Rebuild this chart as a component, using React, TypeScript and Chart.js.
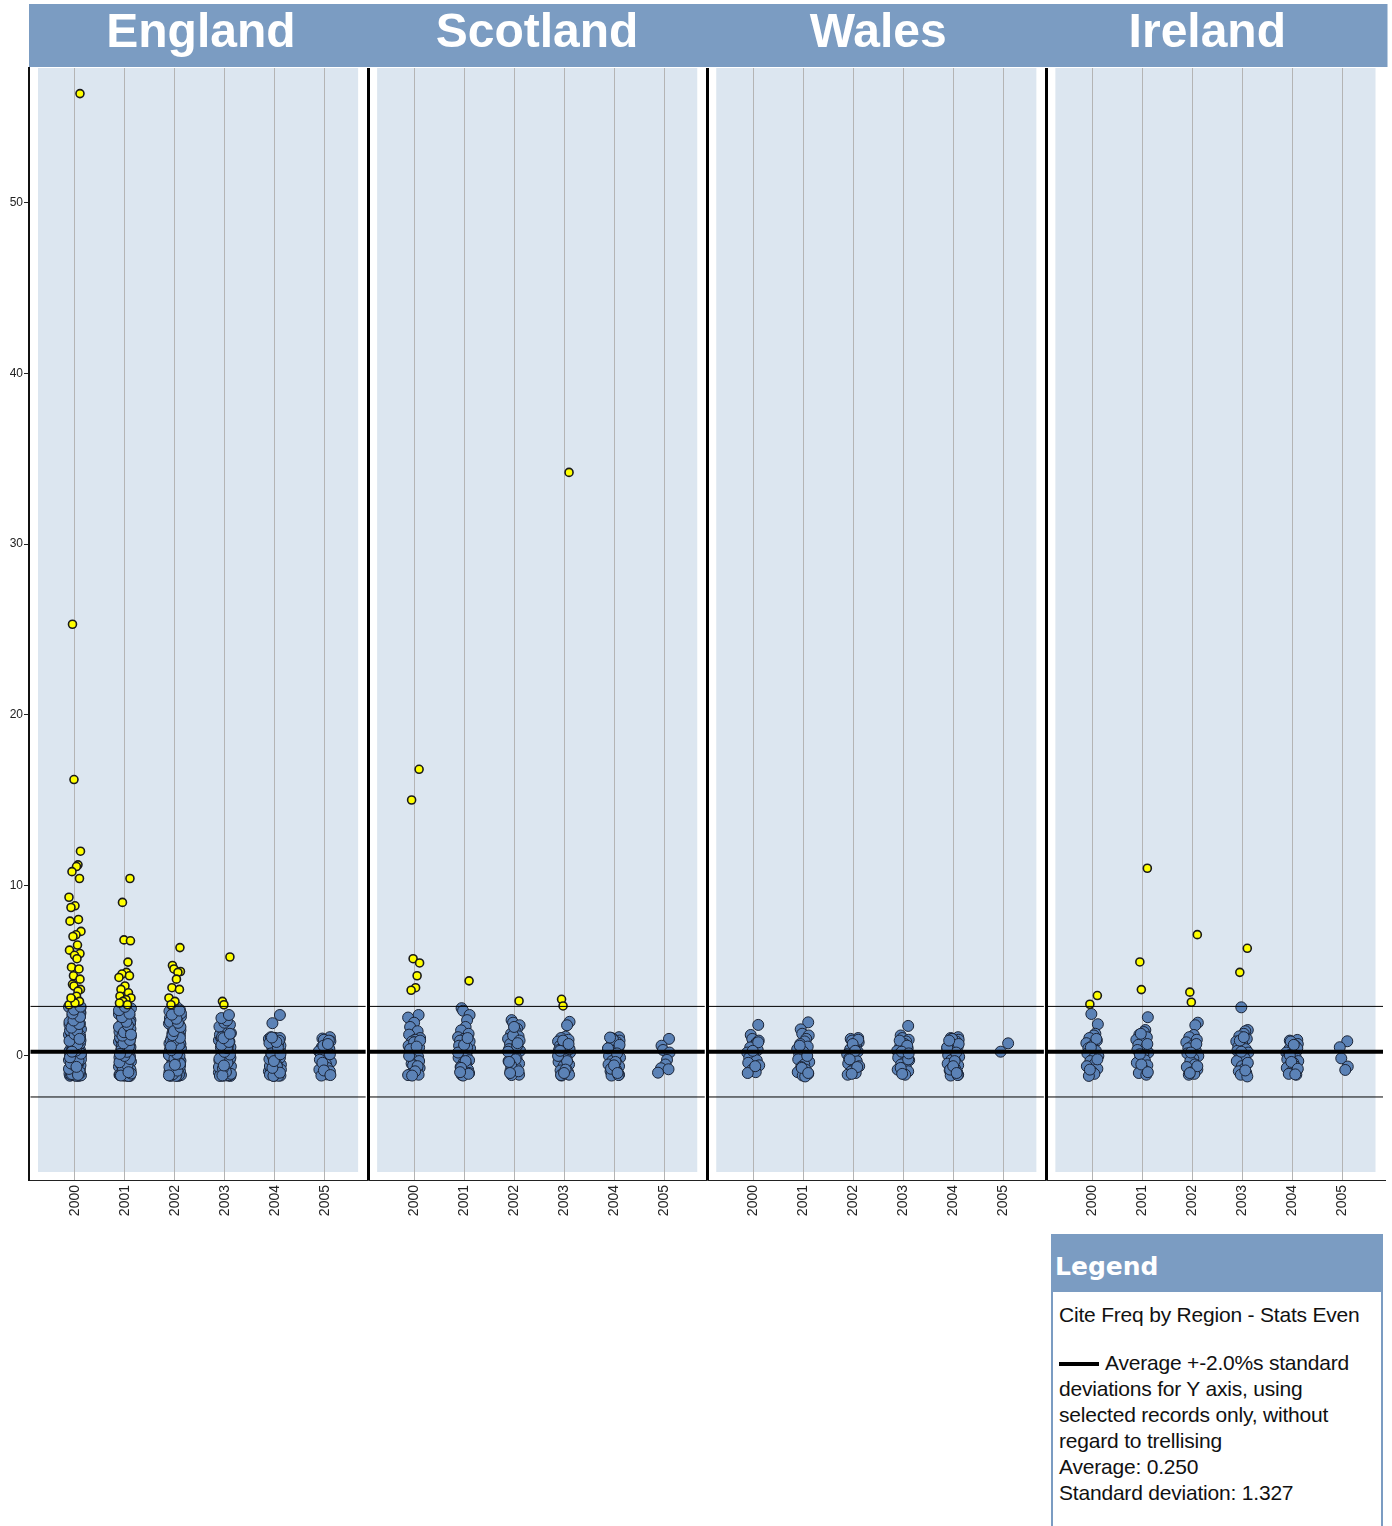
import { useEffect, useRef } from "react";
import { Chart, registerables } from "chart.js";

Chart.register(...registerables);

const regions = ["England", "Scotland", "Wales", "Ireland"];
const years = ["2000", "2001", "2002", "2003", "2004", "2005"];
const yTickValues = [0, 10, 20, 30, 40, 50];
const average = 0.25;
const stdDev = 1.327;
const sdMultiple = 2.0;

const englandValues = [
  [56.4, 25.3, 16.2, 12.0, 11.2, 11.1, 10.8, 10.4, 9.3, 8.8, 8.7, 8.0, 7.9, 7.3, 7.1, 7.0, 6.5, 6.2, 6.0, 5.9, 5.7, 5.2, 5.1, 4.7, 4.5, 4.2, 4.1, 3.9, 3.8, 3.5, 3.3, 3.2, 3.0, 3.1, 3.4,
    -1.17, -1.16, -1.14, -1.12, -1.1, -1.07, -1.04, -1.0, -0.96, -0.91, -0.87, -0.82, -0.78, -0.73, -0.66, -0.6, -0.55, -0.48, -0.41, -0.36, -0.3, -0.24, -0.17, -0.12, -0.06, 0.0, 0.04, 0.1, 0.17, 0.22,
    0.29, 0.34, 0.41, 0.47, 0.53, 0.6, 0.66, 0.72, 0.79, 0.85, 0.91, 0.98, 1.04, 1.11, 1.17, 1.24, 1.31, 1.37, 1.44, 1.5, 1.57, 1.63, 1.7, 1.77, 1.84, 1.9, 1.97, 2.04, 2.11, 2.18,
    2.25, 2.32, 2.39, 2.46, 2.53, 2.6, 2.67, 2.74, 2.8, 2.87, -1.15, -1.09, -0.95, -0.7, -0.2, 0.5, 0.95, 1.4, 2.0, 2.62, -1.13, -0.85, -0.5, 0.07, 0.62, 1.2, 1.8, 2.35, 2.84, -1.02,
    -1.16, -1.06, -0.92, -0.76, -0.58, -0.44, -0.27, -0.08, 0.13, 0.31, 0.45, 0.69, 0.88, 1.07, 1.28, 1.47, 1.66, 1.87, 2.08, 2.29, 2.49, 2.71, 2.89, -1.11, -0.64, 0.25, 1.0],
  [10.4, 9.0, 6.8, 6.75, 5.5, 4.9, 4.8, 4.7, 4.6, 4.1, 3.9, 3.7, 3.5, 3.4, 3.3, 3.2, 3.0, 3.1,
    -1.17, -1.15, -1.13, -1.11, -1.08, -1.05, -1.01, -0.97, -0.93, -0.88, -0.84, -0.79, -0.74, -0.68, -0.63, -0.57, -0.51, -0.45, -0.4, -0.33, -0.27, -0.21, -0.15, -0.09, -0.03, 0.03, 0.09, 0.16,
    0.21, 0.27, 0.33, 0.39, 0.46, 0.52, 0.58, 0.64, 0.7, 0.77, 0.83, 0.89, 0.96, 1.02, 1.09, 1.15, 1.22, 1.28, 1.35, 1.42, 1.48, 1.55, 1.62, 1.69, 1.76, 1.83, 1.9, 1.96, 2.03, 2.1, 2.17,
    2.24, 2.31, 2.38, 2.45, 2.52, 2.59, 2.66, 2.73, 2.79, 2.86, 2.9, -1.16, -1.1, -0.9, -0.6, -0.1, 0.4, 0.8, 1.3, 1.95, 2.5, -1.14, -0.8, -0.35, 0.15, 0.6, 1.1, 1.7, 2.2, 2.7,
    -1.17, -1.12, -1.03, -0.86, -0.71, -0.54, -0.37, -0.18, 0.0, 0.24, 0.36, 0.55, 0.74, 0.93, 1.19, 1.39, 1.59, 1.79, 2.0, 2.27, 2.48, 2.68, 2.88, -1.15, -0.95, 0.12, 1.25],
  [6.35, 5.3, 5.1, 4.95, 4.9, 4.5, 4.0, 3.9, 3.4, 3.2, 3.0,
    -1.17, -1.15, -1.12, -1.09, -1.05, -1.0, -0.95, -0.89, -0.83, -0.77, -0.7, -0.63, -0.56, -0.49, -0.42, -0.35, -0.28, -0.2, -0.13, -0.06, 0.01, 0.08, 0.15, 0.23, 0.3, 0.37, 0.44, 0.51,
    0.58, 0.65, 0.73, 0.8, 0.87, 0.94, 1.02, 1.1, 1.18, 1.26, 1.34, 1.42, 1.5, 1.58, 1.66, 1.74, 1.82, 1.9, 1.98, 2.06, 2.14, 2.22, 2.3, 2.38, 2.46, 2.54, 2.62, 2.7, 2.78, 2.85,
    -1.16, -1.1, -0.92, -0.6, -0.25, 0.2, 0.7, 0.98, -1.13, -0.8, -0.4, 0.05, 0.45, 0.9, 1.3, 2.0, 2.5,
    -1.17, -1.07, -0.86, -0.66, -0.46, -0.16, 0.12, 0.34, 0.62, 0.84, 1.06, 1.22, 1.46, 1.7, 1.94, 2.18, 2.42, 2.66, -1.14, -0.52, 0.55],
  [5.8, 3.2, 3.0,
    -1.17, -1.15, -1.12, -1.08, -1.03, -0.97, -0.9, -0.83, -0.76, -0.68, -0.6, -0.52, -0.44, -0.36, -0.28, -0.2, -0.12, -0.04, 0.04, 0.12, 0.2, 0.28, 0.36, 0.44, 0.52, 0.6, 0.68, 0.76,
    0.84, 0.92, 1.0, 1.08, 1.16, 1.25, 1.34, 1.43, 1.52, 1.62, 1.72, 1.83, 1.95, 2.08, 2.22, 2.4, -1.16, -1.1, -0.85, -0.5, -0.1, 0.3, 0.7, 1.1, -1.13, -0.65, 0.0, 0.5, 0.9,
    -1.17, -1.05, -0.94, -0.72, -0.4, -0.16, 0.08, 0.24, 0.46, 0.64, 0.82, 1.04, 1.3, -1.14, -0.56],
  [2.4, 1.92,
    -1.17, -1.15, -1.12, -1.08, -1.03, -0.97, -0.9, -0.83, -0.75, -0.67, -0.59, -0.51, -0.43, -0.35, -0.27, -0.19, -0.11, -0.03, 0.05, 0.13, 0.21, 0.29, 0.37, 0.45, 0.53, 0.61, 0.69,
    0.77, 0.85, 0.93, 1.0, 1.06, 1.1, -1.16, -1.1, -0.8, -0.45, -0.05, 0.35, 0.75, 1.05, -1.13, -0.6, 0.15, 0.9, -1.17, -0.98, -0.7, -0.3, 0.1, 0.5, 0.82, 1.08],
  [1.1, 1.02, 0.95, 0.86, 0.75, 0.64, 0.52, 0.4, 0.28, 0.15, 0.02, -0.1, -0.22, -0.35, -0.47, -0.58, -0.7, -0.8, -0.9, -1.0, -1.08, -1.15, 0.9, 0.6, 0.1, -0.4, -0.85, -1.12, 0.7],
];

const scotlandValues = [
  [16.8, 15.0, 5.7, 5.45, 4.7, 4.0, 3.85, 2.4, 2.25, 1.95, 1.7, 1.45, 1.25, 1.05, 0.95, 0.85, 0.7, 0.6, 0.5, 0.35, 0.2, 0.1, -0.05, -0.2, -0.3, -0.45, -0.55, -0.7, -0.85, -0.95,
    -1.05, -1.1, -1.12, 0.8, 0.4, -0.6, 0.0, 0.9, -0.9, -1.15, 0.55],
  [4.4, 2.8, 2.65, 2.4, 2.1, 1.7, 1.5, 1.3, 1.1, 1.0, 0.9, 0.75, 0.6, 0.45, 0.3, 0.15, 0.0, -0.1, -0.25, -0.4, -0.5, -0.65, -0.8, -0.9, -1.0, -1.1, -1.15, 0.85, 0.5, -0.3, -0.7,
    -1.05, 0.2, 0.65, -0.95, 1.05],
  [3.22, 2.1, 1.95, 1.8, 1.6, 1.45, 1.3, 1.15, 1.0, 0.85, 0.7, 0.55, 0.4, 0.3, 0.15, 0.0, -0.15, -0.3, -0.45, -0.6, -0.7, -0.85, -0.95, -1.05, -1.1, -1.12, 1.2, 0.9, 0.6, -0.2,
    -0.55, -0.9, 0.25, 1.7, -1.0, 0.75, -0.35],
  [34.2, 3.32, 2.93, 2.0, 1.8, 1.13, 1.05, 0.95, 0.85, 0.75, 0.6, 0.5, 0.35, 0.2, 0.1, -0.05, -0.2, -0.35, -0.5, -0.6, -0.75, -0.85, -0.95, -1.05, -1.1, -1.15, 0.9, 0.4, -0.3, -0.8,
    -1.12, 0.7, 0.0, -1.0, 0.3],
  [1.1, 1.05, 1.0, 0.9, 0.8, 0.7, 0.6, 0.5, 0.4, 0.3, 0.2, 0.1, 0.0, -0.1, -0.2, -0.3, -0.4, -0.5, -0.6, -0.7, -0.8, -0.9, -1.0, -1.05, -1.1, -1.15, 0.95, 0.65, 0.15, -0.35,
    -0.75, -1.12, 0.45, -0.55, 1.08, -1.0],
  [1.0, 0.6, 0.35, 0.2, -0.23, -0.5, -0.72, -0.78, -0.98],
];

const walesValues = [
  [1.82, 1.23, 1.0, 0.9, 0.75, 0.6, 0.5, 0.35, 0.2, 0.05, -0.1, -0.25, -0.4, -0.55, -0.7, -0.85, -0.95, -1.0, 0.8, 0.3, -0.6],
  [1.97, 1.56, 1.3, 1.2, 1.0, 0.85, 0.7, 0.55, 0.4, 0.25, 0.1, -0.05, -0.2, -0.35, -0.5, -0.65, -0.8, -0.95, -1.05, -1.15, -1.2, 0.6, 0.0, -0.7, -1.0],
  [1.05, 1.0, 0.9, 0.8, 0.65, 0.5, 0.4, 0.25, 0.1, 0.0, -0.15, -0.3, -0.45, -0.6, -0.75, -0.9, -1.0, -1.1, 0.95, 0.7, 0.3, -0.2, -0.65, -1.05],
  [1.76, 1.2, 1.05, 0.95, 0.85, 0.7, 0.55, 0.45, 0.3, 0.2, 0.1, 0.0, -0.1, -0.25, -0.4, -0.5, -0.65, -0.8, -0.9, -1.0, -1.1, 0.9, 0.6, 0.25, -0.2, -0.7, -1.05, 0.15],
  [1.1, 1.05, 1.0, 0.95, 0.85, 0.75, 0.65, 0.55, 0.45, 0.35, 0.25, 0.15, 0.05, -0.05, -0.15, -0.25, -0.35, -0.45, -0.55, -0.65, -0.75, -0.85, -0.95, -1.05, -1.1, -1.15, 1.0, 0.7,
    0.2, -0.3, -0.8, -1.12, 0.5, -0.6, 0.9, -1.0],
  [0.74, 0.25],
];

const irelandValues = [
  [3.54, 3.03, 2.46, 1.86, 1.3, 1.2, 1.05, 0.9, 0.75, 0.6, 0.45, 0.3, 0.15, 0.0, -0.15, -0.3, -0.45, -0.6, -0.75, -0.9, -1.05, -1.17, 1.0, 0.5, -0.2, -0.8],
  [11.0, 5.51, 3.89, 2.27, 1.52, 1.4, 1.25, 1.1, 0.95, 0.8, 0.65, 0.5, 0.35, 0.2, 0.05, -0.1, -0.25, -0.4, -0.55, -0.7, -0.85, -1.0, -1.1, 1.3, 0.7, 0.1, -0.5, -0.95],
  [7.11, 3.74, 3.15, 1.95, 1.8, 1.23, 1.1, 0.95, 0.8, 0.6, 0.45, 0.3, 0.15, 0.0, -0.15, -0.3, -0.5, -0.65, -0.8, -0.95, -1.05, -1.1, 0.7, 0.2, -0.6, -1.0],
  [6.31, 4.9, 2.85, 1.52, 1.45, 1.3, 1.15, 1.0, 0.85, 0.7, 0.55, 0.4, 0.3, 0.2, 0.1, 0.0, -0.15, -0.3, -0.45, -0.6, -0.75, -0.9, -1.0, -1.1, -1.2, 0.9, 0.25, -0.4, -0.85, 1.1],
  [0.94, 0.9, 0.8, 0.7, 0.6, 0.5, 0.4, 0.3, 0.2, 0.1, 0.0, -0.1, -0.2, -0.3, -0.4, -0.5, -0.6, -0.7, -0.8, -0.9, -1.0, -1.05, -1.1, 0.85, 0.45, 0.05, -0.35, -0.75, -1.08, 0.65],
  [0.86, 0.51, -0.14, -0.62, -0.82],
];

const regionValues = [englandValues, scotlandValues, walesValues, irelandValues];

// layout helpers (not data)
const X_MIN = -0.92;
const PANEL = 6.785;
const X_MAX = X_MIN + PANEL * 4;
const Y_MIN = -7.27;
const Y_MAX = 57.9;
const SPREAD = [0.1, -0.05, -0.02, 0.11, 0.06, 0.03, -0.06, 0.09, -0.12, 0.0, -0.08, 0.07, -0.1, 0.12, 0.02, -0.04, 0.05, -0.11, 0.1, -0.01, 0.04, -0.07, 0.08, -0.03];

const HEADER = "#7b9cc2";
const PANEL_FILL = "#dce6f0";

export default function App() {
  const ref = useRef<HTMLCanvasElement | null>(null);

  useEffect(() => {
    const upper = average + sdMultiple * stdDev;
    const lower = average - sdMultiple * stdDev;
    const blue: { x: number; y: number }[] = [];
    const yellow: { x: number; y: number }[] = [];
    regionValues.forEach((yearsArr, r) => {
      yearsArr.forEach((vals, i) => {
        vals.forEach((v, j) => {
          const p = { x: r * PANEL + i + SPREAD[j % SPREAD.length], y: v };
          if (v > upper) yellow.push(p);
          else blue.push(p);
        });
      });
    });

    const tickPositions: number[] = [];
    regions.forEach((_, r) => years.forEach((_, i) => tickPositions.push(r * PANEL + i)));

    const lineSets: any[] = [];
    regions.forEach((_, r) => {
      const s = X_MIN + r * PANEL + 0.03;
      const e = X_MIN + (r + 1) * PANEL - 0.05;
      [
        [average, 4],
        [upper, 1],
        [lower, 1],
      ].forEach(([yv, w]) => {
        lineSets.push({
          data: [
            { x: s, y: yv },
            { x: e, y: yv },
          ],
          showLine: true,
          borderColor: "#000",
          borderWidth: w,
          pointRadius: 0,
          order: 0,
        });
      });
    });

    const trellisPlugin = {
      id: "trellis",
      beforeDraw(chart: any) {
        const { ctx, chartArea, scales } = chart;
        const xs = scales.x;
        const ys = scales.y;
        ctx.save();
        ctx.fillStyle = "#fff";
        ctx.fillRect(0, 0, chart.width, chart.height);
        regions.forEach((_, r) => {
          const l = xs.getPixelForValue(X_MIN + r * PANEL) + 9;
          const rr = xs.getPixelForValue(X_MIN + (r + 1) * PANEL) - 10;
          const b = ys.getPixelForValue(Y_MIN) - 8;
          ctx.fillStyle = PANEL_FILL;
          ctx.fillRect(l, chartArea.top, rr - l, b - chartArea.top);
        });
        ctx.fillStyle = HEADER;
        ctx.fillRect(chartArea.left, 4, chartArea.right - chartArea.left + 2, chartArea.top - 5);
        ctx.fillStyle = "#fff";
        ctx.font = "bold 48px 'Liberation Sans', Arial, sans-serif";
        ctx.textAlign = "center";
        ctx.textBaseline = "middle";
        regions.forEach((name, r) => {
          const cx = xs.getPixelForValue(r * PANEL + 2.5) + (r === 0 ? 1 : r === 1 ? -2 : r === 3 ? -10 : 0);
          ctx.fillText(name, cx, 34);
        });
        ctx.restore();
      },
      afterDatasetsDraw(chart: any) {
        const { ctx, chartArea, scales } = chart;
        const xs = scales.x;
        ctx.save();
        ctx.strokeStyle = "#000";
        ctx.lineWidth = 3;
        for (let r = 1; r < regions.length; r++) {
          const px = Math.round(xs.getPixelForValue(X_MIN + r * PANEL)) + 0.5;
          ctx.beginPath();
          ctx.moveTo(px, chartArea.top);
          ctx.lineTo(px, chartArea.bottom);
          ctx.stroke();
        }
        ctx.restore();
      },
    };

    const chart = new Chart(ref.current as HTMLCanvasElement, {
      type: "scatter",
      data: {
        datasets: [
          ...lineSets,
          {
            data: yellow,
            backgroundColor: "#ffff00",
            borderColor: "#1a1a1a",
            borderWidth: 1.6,
            pointRadius: 4,
            order: 1,
          },
          {
            data: blue,
            backgroundColor: "#5b82b6",
            borderColor: "#1b2436",
            borderWidth: 1,
            pointRadius: 5.5,
            order: 2,
          },
        ],
      },
      options: {
        animation: false,
        responsive: false,
        devicePixelRatio: 1,
        events: [],
        layout: { padding: { top: 68, right: 6, left: 0, bottom: 0 } },
        plugins: { legend: { display: false }, tooltip: { enabled: false } },
        scales: {
          x: {
            type: "linear",
            min: X_MIN,
            max: X_MAX,
            afterBuildTicks: (scale: any) => {
              scale.ticks = tickPositions.map((v) => ({ value: v }));
            },
            afterFit: (scale: any) => {
              scale.height = 346;
            },
            ticks: {
              autoSkip: false,
              maxRotation: 90,
              minRotation: 90,
              padding: 5,
              color: "#222",
              font: { family: "'Liberation Sans', Arial, sans-serif", size: 14 },
              callback: (_v: any, index: number) => years[index % years.length],
            },
            grid: { color: "#b4b4b4", lineWidth: 1, drawTicks: false },
            border: { display: true, color: "#222", width: 1 },
          },
          y: {
            type: "linear",
            min: Y_MIN,
            max: Y_MAX,
            afterBuildTicks: (scale: any) => {
              scale.ticks = yTickValues.map((v) => ({ value: v }));
            },
            afterFit: (scale: any) => {
              scale.width = 29;
            },
            ticks: {
              padding: 1,
              color: "#222",
              font: { family: "'Liberation Sans', Arial, sans-serif", size: 12 },
            },
            grid: { drawOnChartArea: false, drawTicks: true, tickLength: 5, tickColor: "#222" },
            border: { display: true, color: "#111", width: 2 },
          },
        },
      },
      plugins: [trellisPlugin],
    } as any);
    return () => chart.destroy();
  }, []);

  const legendText = { font: "21px 'Liberation Sans', Arial, sans-serif", color: "#111", lineHeight: "26px" };

  return (
    <div style={{ position: "absolute", left: 0, top: 0, width: 1392, height: 1526, overflow: "hidden", background: "#fff" }}>
      <canvas ref={ref} width={1392} height={1526} style={{ position: "absolute", left: 0, top: 0 }} />
      <div
        style={{
          position: "absolute",
          left: 1051,
          top: 1234,
          width: 332,
          height: 310,
          border: `2px solid ${HEADER}`,
          boxSizing: "border-box",
          background: "#fff",
        }}
      >
        <div
          style={{
            background: HEADER,
            height: 56,
            color: "#fff",
            font: "bold 25px 'DejaVu Sans', Verdana, sans-serif",
            lineHeight: "62px",
            paddingLeft: 2,
          }}
        >
          Legend
        </div>
        <div style={{ ...legendText, padding: "10px 0 0 6px", letterSpacing: "-0.2px" }}>
          <div>Cite Freq by Region - Stats Even</div>
          <div style={{ marginTop: 22 }}>
            <span
              style={{
                display: "inline-block",
                width: 40,
                height: 4,
                background: "#000",
                verticalAlign: "middle",
                marginRight: 6,
              }}
            />
            Average +-2.0%s standard
          </div>
          <div>deviations for Y axis, using</div>
          <div>selected records only, without</div>
          <div>regard to trellising</div>
          <div>Average: 0.250</div>
          <div>Standard deviation: 1.327</div>
        </div>
      </div>
    </div>
  );
}
